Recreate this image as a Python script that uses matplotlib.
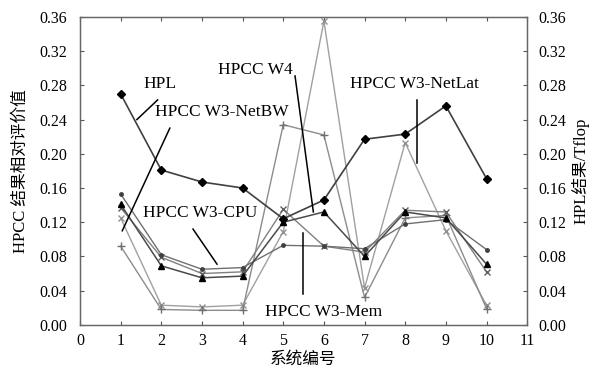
import numpy as np
import matplotlib
matplotlib.use('Agg')
import matplotlib.pyplot as plt
import matplotlib.ticker as ticker

plt.rcParams['font.family'] = ['Liberation Serif', 'Noto Sans CJK SC', 'DejaVu Sans']
plt.rcParams['axes.unicode_minus'] = False

# 系统编号
systems = [1, 2, 3, 4, 5, 6, 7, 8, 9, 10]

# 各曲线取值
hpl = [0.270, 0.181, 0.167, 0.160, 0.124, 0.146, 0.217, 0.223, 0.256, 0.171]
w4 = [0.141, 0.069, 0.055, 0.057, 0.120, 0.132, 0.080, 0.132, 0.125, 0.071]
cpu = [0.153, 0.082, 0.065, 0.067, 0.093, 0.092, 0.089, 0.118, 0.123, 0.088]
mem = [0.137, 0.079, 0.060, 0.062, 0.135, 0.092, 0.085, 0.134, 0.132, 0.062]
netbw = [0.092, 0.018, 0.017, 0.017, 0.234, 0.222, 0.032, 0.125, 0.128, 0.019]
netlat = [0.125, 0.023, 0.021, 0.023, 0.109, 0.355, 0.043, 0.213, 0.110, 0.023]

y_ticks = [0.00, 0.04, 0.08, 0.12, 0.16, 0.20, 0.24, 0.28, 0.32, 0.36]
x_ticks = list(range(0, 12))

fig = plt.figure(figsize=(5.97, 3.76), dpi=100)
ax = fig.add_axes([0.134, 0.136, 0.749, 0.819])

# 浅色曲线先画
ax.plot(systems, netlat, color='#a0a0a0', lw=1.0, marker='x', ms=5, mec='#909090', mew=1.0)
ax.plot(systems, netbw, color='#8c8c8c', lw=1.0, marker='+', ms=6, mec='#707070', mew=1.0)
ax.plot(systems, mem, color='#808080', lw=1.0, marker='x', ms=4, mec='#606060', mew=1.0)
ax.plot(systems, cpu, color='#707070', lw=1.0, marker='o', ms=2.5, mfc='#404040', mec='#404040')
ax.plot(systems, w4, color='#4a4a4a', lw=1.1, marker='^', ms=5, mfc='black', mec='black')

ax.set_xlim(0, 11)
ax.set_ylim(0, 0.36)
ax.set_xticks(x_ticks)
ax.set_yticks(y_ticks)
ax.yaxis.set_major_formatter(ticker.FormatStrFormatter('%.2f'))
ax.tick_params(direction='in', length=3, labelsize=11.5, top=True, color='#555555')
ax.tick_params(axis='x', pad=6)
ax.tick_params(axis='y', pad=9)
for s in ax.spines.values():
    s.set_color('#666666')
    s.set_linewidth(0.9)
ax.set_xlabel('系统编号', fontsize=12, labelpad=2)
ax.set_ylabel('HPCC 结果相对评价值', fontsize=12, labelpad=8)

# 右轴：HPL结果
ax2 = ax.twinx()
ax2.plot(systems, hpl, color='#404040', lw=1.2, marker='D', ms=4.5, mfc='black', mec='black')
ax2.set_ylim(0, 0.36)
ax2.set_yticks(y_ticks)
ax2.yaxis.set_major_formatter(ticker.FormatStrFormatter('%.2f'))
ax2.tick_params(direction='in', length=3, labelsize=11.5, pad=8, color='#555555')
for s in ax2.spines.values():
    s.set_color('#666666')
    s.set_linewidth(0.9)
ax2.set_ylabel('HPL结果/Tflop', fontsize=12, labelpad=4)

# 曲线标注
labels = [
    ('HPL', (1.55, 0.281), (1.91, 0.263), (1.40, 0.240)),
    ('HPCC W3-NetBW', (1.84, 0.249), (2.21, 0.230), (1.04, 0.110)),
    ('HPCC W4', (3.39, 0.298), (5.29, 0.291), (5.74, 0.132)),
    ('HPCC W3-NetLat', (6.64, 0.281), (8.29, 0.263), (8.29, 0.189)),
    ('HPCC W3-CPU', (1.54, 0.131), (2.78, 0.112), (3.37, 0.071)),
    ('HPCC W3-Mem', (4.55, 0.015), (5.48, 0.107), (5.48, 0.036)),
]
for txt, pos, p0, p1 in labels:
    ax2.text(pos[0], pos[1], txt, fontsize=12.5, ha='left', va='center')
    ax2.plot([p0[0], p1[0]], [p0[1], p1[1]], color='black', lw=1.1)

plt.savefig('out.png', dpi=100)
